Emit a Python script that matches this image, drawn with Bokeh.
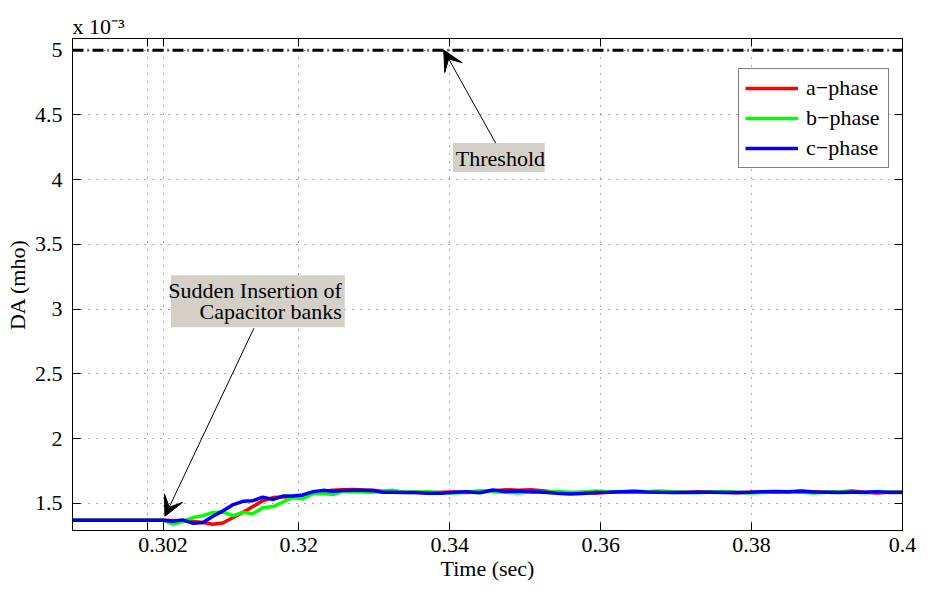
from bokeh.plotting import figure
from bokeh.models import (Range1d, FixedTicker, LinearAxis, Label, BoxAnnotation,
                          Arrow, VeeHead, Legend, Title)
from bokeh.embed import file_html
from bokeh.resources import INLINE

# ---------------- data (DA in units of 1e-3 mho) ----------------
time_s = [0.290, 0.302, 0.3033, 0.3046, 0.3060, 0.3073, 0.3086, 0.3099, 0.3113, 0.3126,
          0.3139, 0.3152, 0.3166, 0.3179, 0.3192, 0.3205, 0.3219, 0.3232, 0.3245, 0.3258,
          0.3272, 0.3285, 0.3298, 0.3311, 0.3325, 0.3338,
          0.3355, 0.3372, 0.3389, 0.3406, 0.3423, 0.3440, 0.3457, 0.3474, 0.3491, 0.3508,
          0.3525, 0.3542, 0.3559, 0.3576, 0.3593, 0.3610, 0.3627, 0.3644, 0.3661, 0.3678,
          0.3695, 0.3712, 0.3729, 0.3746, 0.3763, 0.3780, 0.3797, 0.3814, 0.3831, 0.3848,
          0.3865, 0.3882, 0.3899, 0.3916, 0.3933, 0.3950, 0.3967, 0.3984, 0.4000]

a_phase = [1.37, 1.37, 1.368, 1.365, 1.36, 1.352, 1.338, 1.348, 1.39, 1.43,
           1.475, 1.52, 1.544, 1.548, 1.55, 1.56, 1.578, 1.593, 1.60, 1.605,
           1.607, 1.603, 1.60, 1.593, 1.588, 1.585,
           1.583, 1.58, 1.585, 1.588, 1.583, 1.59, 1.595, 1.605, 1.60, 1.605,
           1.595, 1.585, 1.58, 1.585, 1.578, 1.585, 1.59, 1.593, 1.59, 1.588,
           1.585, 1.585, 1.59, 1.588, 1.585, 1.582, 1.585, 1.588, 1.59, 1.585,
           1.595, 1.59, 1.585, 1.588, 1.595, 1.585, 1.58, 1.588, 1.583]

b_phase = [1.37, 1.37, 1.34, 1.36, 1.39, 1.405, 1.43, 1.433, 1.405, 1.43,
           1.42, 1.465, 1.475, 1.51, 1.545, 1.535, 1.575, 1.578, 1.567, 1.593,
           1.59, 1.588, 1.586, 1.595, 1.60, 1.585,
           1.588, 1.59, 1.582, 1.58, 1.585, 1.598, 1.59, 1.585, 1.58, 1.59,
           1.585, 1.592, 1.585, 1.588, 1.595, 1.59, 1.585, 1.588, 1.59, 1.595,
           1.59, 1.585, 1.582, 1.588, 1.592, 1.585, 1.58, 1.583, 1.587, 1.59,
           1.585, 1.58, 1.585, 1.59, 1.585, 1.582, 1.59, 1.585, 1.585]

c_phase = [1.37, 1.37, 1.362, 1.372, 1.345, 1.352, 1.40, 1.44, 1.49, 1.515,
           1.52, 1.548, 1.53, 1.556, 1.556, 1.565, 1.59, 1.60, 1.594, 1.598,
           1.60, 1.60, 1.598, 1.585, 1.585, 1.583,
           1.583, 1.578, 1.577, 1.585, 1.59, 1.582, 1.603, 1.592, 1.595, 1.59,
           1.585, 1.578, 1.572, 1.575, 1.583, 1.585, 1.59, 1.592, 1.588, 1.585,
           1.583, 1.583, 1.585, 1.585, 1.583, 1.583, 1.585, 1.59, 1.592, 1.59,
           1.593, 1.587, 1.585, 1.583, 1.585, 1.585, 1.59, 1.583, 1.585]

threshold_t = [0.290, 0.400]
threshold_v = [5.0, 5.0]

x_ticks = [0.3, 0.302, 0.32, 0.34, 0.36, 0.38, 0.4]
x_tick_labels = ["", "0.302", "0.32", "0.34", "0.36", "0.38", "0.4"]
y_ticks = [1.5, 2.0, 2.5, 3.0, 3.5, 4.0, 4.5, 5.0]
y_tick_labels = ["1.5", "2", "2.5", "3", "3.5", "4", "4.5", "5"]

FONT = "Liberation Serif"
FS = "22px"

p = figure(width=930, height=590, output_backend="svg", toolbar_location=None,
           x_range=Range1d(0.290, 0.400), y_range=Range1d(1.29, 5.09),
           min_border_left=72, min_border_right=28, min_border_top=38,
           min_border_bottom=60, background_fill_color="white",
           border_fill_color="white")
p.outline_line_color = "black"
p.outline_line_width = 1

# exponent written as a left-aligned title above the frame
p.title = Title(text="x 10\u207b\u00b3", align="left", text_font=FONT, text_font_size=FS,
                text_font_style="normal", text_color="black", standoff=0, offset=0)

# main axes
for ax, ticks, labels in ((p.xaxis[0], x_ticks, x_tick_labels), (p.yaxis[0], y_ticks, y_tick_labels)):
    ax.ticker = FixedTicker(ticks=ticks)
    ax.major_label_overrides = {t: l for t, l in zip(ticks, labels)}
    ax.major_tick_in = 8
    ax.major_tick_out = 0
    ax.minor_tick_in = 0
    ax.minor_tick_out = 0
    ax.axis_line_color = "black"
    ax.major_tick_line_color = "black"
    ax.major_label_text_font = FONT
    ax.major_label_text_font_size = FS
    ax.major_label_text_color = "black"
    ax.axis_label_text_font = FONT
    ax.axis_label_text_font_size = FS
    ax.axis_label_text_font_style = "normal"
    ax.axis_label_text_color = "black"

p.xaxis.axis_label = "Time (sec)"
p.xaxis.major_label_standoff = 7
p.xaxis.axis_label_standoff = 1
p.yaxis.axis_label = "DA (mho)"
p.yaxis.major_label_standoff = 10
p.yaxis.axis_label_standoff = 2

# mirrored ticks on top and right (no labels)
top_ax = LinearAxis(ticker=FixedTicker(ticks=x_ticks), major_tick_in=8, major_tick_out=0,
                    minor_tick_in=0, minor_tick_out=0,
                    major_label_overrides={t: "" for t in x_ticks},
                    major_label_standoff=0, axis_line_color="black")
right_ax = LinearAxis(ticker=FixedTicker(ticks=y_ticks), major_tick_in=8, major_tick_out=0,
                      minor_tick_in=0, minor_tick_out=0,
                      major_label_overrides={t: "" for t in y_ticks},
                      major_label_standoff=0, axis_line_color="black")
p.add_layout(top_ax, "above")
p.add_layout(right_ax, "right")

# grid
p.xgrid.grid_line_color = "#555555"
p.ygrid.grid_line_color = "#555555"
p.xgrid.grid_line_dash = "1 7"
p.ygrid.grid_line_dash = "1 7"
p.xgrid.grid_line_width = 1
p.ygrid.grid_line_width = 1

# lines
p.line(threshold_t, threshold_v, line_color="black", line_width=3, line_dash="11 4 1 4")
ra = p.line(time_s, a_phase, line_color="#ff0000", line_width=3.5)
rb = p.line(time_s, b_phase, line_color="#00ff00", line_width=3.5)
rc = p.line(time_s, c_phase, line_color="#0000ff", line_width=3.5)

legend = Legend(items=[("a\u2212phase", [ra]), ("b\u2212phase", [rb]), ("c\u2212phase", [rc])],
                location=(666, 362), label_text_font=FONT, label_text_font_size=FS,
                label_text_color="black", glyph_width=53, glyph_height=24, label_height=24,
                label_width=76, label_standoff=8, spacing=4, padding=6, margin=0,
                border_line_color="black", border_line_width=1,
                background_fill_color="white", background_fill_alpha=1)
p.add_layout(legend, "center")

# annotation boxes
GRAY = "#d4d0c8"
p.add_layout(BoxAnnotation(left=0.3404, right=0.35258, top=4.282, bottom=4.058,
                           fill_color=GRAY, fill_alpha=1, line_color=None))
p.add_layout(Label(x=0.34080, y=4.162, text="Threshold", text_font=FONT, text_font_size=FS,
                   text_color="black", text_baseline="alphabetic"))

p.add_layout(BoxAnnotation(left=0.30305, right=0.32609, top=3.262, bottom=2.860,
                           fill_color=GRAY, fill_alpha=1, line_color=None))
p.add_layout(Label(x=0.32570, y=3.142, text="Sudden Insertion of", text_font=FONT,
                   text_font_size=FS, text_color="black", text_align="right",
                   text_baseline="alphabetic"))
p.add_layout(Label(x=0.32570, y=2.979, text="Capacitor banks", text_font=FONT,
                   text_font_size=FS, text_color="black", text_align="right",
                   text_baseline="alphabetic"))

# arrows
p.add_layout(Arrow(end=VeeHead(size=20, fill_color="black", line_color="black"),
                   x_start=0.34609, y_start=4.282, x_end=0.3392, y_end=5.0,
                   line_color="black", line_width=1))
p.add_layout(Arrow(end=VeeHead(size=20, fill_color="black", line_color="black"),
                   x_start=0.31404, y_start=2.852, x_end=0.30225, y_end=1.40,
                   line_color="black", line_width=1))

open("out.html", "w").write(file_html(p, INLINE))
